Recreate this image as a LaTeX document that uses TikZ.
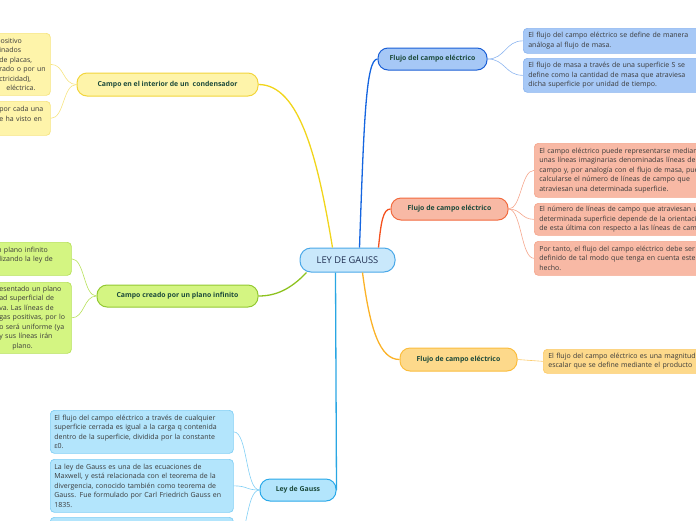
\documentclass[tikz,border=0pt]{standalone}
\usepackage{fontspec}
\setmainfont{Open Sans}
\usetikzlibrary{calc}
\definecolor{leaftext}{HTML}{3A3A3A}
\definecolor{brtext}{HTML}{1C4A3B}
\definecolor{cfill}{HTML}{C9E8FB}\definecolor{cdraw}{HTML}{4AA8E8}\definecolor{ctext}{HTML}{1E2D4F}
\definecolor{afill}{HTML}{A6C8F6}\definecolor{adraw}{HTML}{1A5FD6}\definecolor{aline}{HTML}{1565E0}\definecolor{aleafd}{HTML}{8DB6F0}
\definecolor{bfill}{HTML}{F8B9A5}\definecolor{bdraw}{HTML}{F26A3E}\definecolor{bline}{HTML}{F4511E}\definecolor{bleafd}{HTML}{F5A78E}
\definecolor{dfill}{HTML}{FDD98B}\definecolor{ddraw}{HTML}{FBBD3E}\definecolor{dline}{HTML}{FBB227}\definecolor{dleafd}{HTML}{FCCB6A}
\definecolor{efill}{HTML}{FEF4AA}\definecolor{edraw}{HTML}{F2D53C}\definecolor{eline}{HTML}{F1D51B}\definecolor{eleafd}{HTML}{F6E480}
\definecolor{gfill}{HTML}{D4F582}\definecolor{gdraw}{HTML}{93C932}\definecolor{gline}{HTML}{8DC21F}\definecolor{gleafd}{HTML}{B7E15A}
\definecolor{hfill}{HTML}{B3E5FC}\definecolor{hdraw}{HTML}{2AA9E9}\definecolor{hline}{HTML}{29A6E3}\definecolor{hleafd}{HTML}{81CFF5}
\tikzset{
  leaf/.style={draw, rounded corners=4pt, line width=0.7pt, align=left, inner xsep=5pt, inner ysep=2pt,
    font=\fontsize{7}{9.5}\selectfont, text=leaftext, anchor=north west},
  branch/.style={draw, rounded corners=10pt, line width=1pt, inner sep=0pt,
    font=\fontsize{6.9}{8}\selectfont\bfseries, text=brtext},
  mainline/.style={line width=1.3pt},
  leafline/.style={line width=0.6pt},
}
\begin{document}
\begin{tikzpicture}[x=1pt,y=-1pt]
\useasboundingbox (0,0) rectangle (696,520);
\clip (0,0) rectangle (696,520);
% center
\node[draw=cdraw, fill=cfill, rounded corners=11pt, line width=1pt, minimum width=95pt, minimum height=24pt, inner sep=0pt,
  font=\fontsize{9.3}{10}\selectfont, text=ctext] (c) at (347.5,260) {LEY DE GAUSS};
% branches
\node[branch, draw=adraw, fill=afill, minimum width=109pt, minimum height=22pt] (b1) at (432.5,59) {Flujo del campo eléctrico};
\node[branch, draw=bdraw, fill=bfill, minimum width=117pt, minimum height=22pt] (b2) at (449.5,209) {Flujo de campo eléctrico};
\node[branch, draw=ddraw, fill=dfill, minimum width=117pt, minimum height=23pt] (b3) at (458.5,359.5) {Flujo de campo eléctrico};
\node[branch, draw=edraw, fill=efill, minimum width=181pt, minimum height=23pt] (b4) at (167.5,84.5) {Campo en el interior de un\ \ condensador};
\node[branch, draw=gdraw, fill=gfill, minimum width=161pt, minimum height=22pt] (b5) at (177.5,296) {Campo creado por un plano infinito};
\node[branch, draw=hdraw, fill=hfill, minimum width=76pt, minimum height=22pt] (b6) at (298,490) {Ley de Gauss};
% leaves branch 1
\node[leaf, draw=aleafd, fill=afill, minimum width=215pt, minimum height=25pt, text width=205pt] (a1) at (523,28)
  {El flujo del campo eléctrico se define de manera\\análoga al flujo de masa.};
\node[leaf, draw=aleafd, fill=afill, minimum width=215pt, minimum height=34pt, text width=205pt] (a2) at (523,58)
  {El flujo de masa a través de una superficie S se\\define como la cantidad de masa que atraviesa\\dicha superficie por unidad de tiempo.};
% leaves branch 2
\node[leaf, draw=bleafd, fill=bfill, minimum width=215pt, minimum height=54pt, text width=205pt] (r1) at (534,143)
  {El campo eléctrico puede representarse mediante\\unas líneas imaginarias denominadas líneas de\\campo y, por analogía con el flujo de masa, puede\\calcularse el número de líneas de campo que\\atraviesan una determinada superficie.};
\node[leaf, draw=bleafd, fill=bfill, minimum width=215pt, minimum height=32pt, text width=205pt] (r2) at (534,203)
  {El número de líneas de campo que atraviesan una\\determinada superficie depende de la orientación\\de esta última con respecto a las líneas de campo.};
\node[leaf, draw=bleafd, fill=bfill, minimum width=215pt, minimum height=34pt, text width=205pt] (r3) at (534,241)
  {Por tanto, el flujo del campo eléctrico debe ser\\definido de tal modo que tenga en cuenta este\\hecho.};
% leaf branch 3
\node[leaf, draw=dleafd, fill=dfill, minimum width=215pt, minimum height=24pt, text width=205pt] (o1) at (543,349)
  {El flujo del campo eléctrico es una magnitud\\escalar que se define mediante el producto};
% leaves branch 4
\node[leaf, draw=eleafd, fill=efill, minimum width=56pt, minimum height=62pt, text width=46pt] (y1) at (-6,33)
  {\hspace*{-3pt}positivo\\inados\\de~placas,\\rado~o~por~un\\ctricidad),\\\hspace*{7pt}eléctrica.};
\node[leaf, draw=eleafd, fill=efill, minimum width=56pt, minimum height=34pt, text width=46pt] (y2) at (-6,101)
  {por~cada~una\\e~ha~visto~en\\\mbox{}};
% leaves branch 5
\node[leaf, draw=gleafd, fill=gfill, minimum width=77pt, minimum height=33pt, text width=67pt] (g1) at (-6,242)
  {\hspace*{-2pt}n~plano~infinito\\lizando~la~ley~de\\\mbox{}};
\node[leaf, draw=gleafd, fill=gfill, minimum width=77pt, minimum height=71pt, text width=67pt] (g2) at (-6,282)
  {esentado~un~plano\\ad~superficial~de\\va.~Las~líneas~de\\gas~positivas,~por~lo\\o~será~uniforme~(ya\\y~sus~líneas~irán\\\hspace*{13pt}plano.};
% leaves branch 6
\node[leaf, draw=hleafd, fill=hfill, minimum width=183pt, minimum height=43pt, text width=175pt, inner xsep=4pt] (l1) at (50,410)
  {El flujo del campo eléctrico a través de cualquier\\superficie cerrada es igual a la carga q contenida\\dentro de la superficie, dividida por la constante\\ε0.};
\node[leaf, draw=hleafd, fill=hfill, minimum width=183pt, minimum height=53pt, text width=175pt, inner xsep=4pt] (l2) at (50,459)
  {La ley de Gauss es una de las ecuaciones de\\Maxwell, y está relacionada con el teorema de la\\divergencia, conocido también como teorema de\\Gauss. Fue formulado por Carl Friedrich Gauss en\\1835.};
\node[leaf, draw=hleafd, fill=hfill, minimum width=183pt, minimum height=55pt, text width=175pt, inner xsep=4pt] (l3) at (50,517) {};
% main connectors
\draw[mainline, eline] ($(c.north west)+(33,0)$) .. controls (318,160) and (300,84.5) .. (b4.east);
\draw[mainline, aline] ($(c.north west)+(60,0)$) .. controls (364,120) and (366,59) .. (b1.west);
\draw[mainline, bline] ($(c.north west)+(79,0)$) .. controls (381,222) and (383,209) .. (b2.west);
\draw[mainline, gline] ($(c.south west)+(7,0)$) .. controls (290,290) and (275,296) .. (b5.east);
\draw[mainline, dline] ($(c.south west)+(63,0)$) .. controls (370,330) and (380,359.5) .. (b3.west);
\draw[mainline, hline] ($(c.south west)+(36,0)$) -- (b6.east);
% leaf connectors
\foreach \l in {a1,a2}{\draw[leafline, aleafd] (b1.east) .. controls ($(b1.east)+(18,0)$) and ($(\l.west)+(-18,0)$) .. (\l.west);}
\foreach \l in {r1,r2,r3}{\draw[leafline, bleafd] (b2.east) .. controls ($(b2.east)+(13,0)$) and ($(\l.west)+(-13,0)$) .. (\l.west);}
\draw[leafline, dleafd] (b3.east) -- (o1.west);
\foreach \l in {y1,y2}{\draw[leafline, eleafd] (b4.west) .. controls ($(b4.west)+(-14,0)$) and ($(\l.east)+(14,0)$) .. (\l.east);}
\foreach \l in {g1,g2}{\draw[leafline, gleafd] (b5.west) .. controls ($(b5.west)+(-13,0)$) and ($(\l.east)+(13,0)$) .. (\l.east);}
\foreach \l in {l1,l2,l3}{\draw[leafline, hleafd] (b6.west) .. controls ($(b6.west)+(-14,0)$) and ($(\l.east)+(14,0)$) .. (\l.east);}
\end{tikzpicture}
\end{document}
